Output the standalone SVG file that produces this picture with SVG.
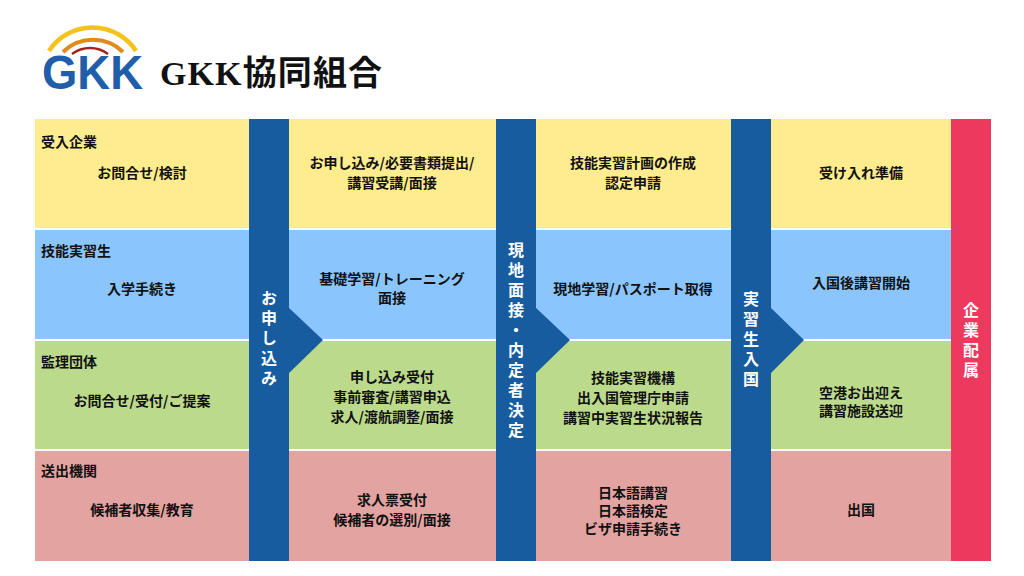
<svg xmlns="http://www.w3.org/2000/svg" width="1024" height="576" viewBox="0 0 1024 576">
<style>
.t{font-family:"Noto Sans CJK JP","Noto Sans",sans-serif;font-size:14px;font-weight:bold;fill:#111;text-anchor:middle}
.c{font-family:"Noto Sans CJK JP","Noto Sans",sans-serif;font-size:14px;font-weight:bold;fill:#111}
.v{font-family:"Noto Sans CJK JP","Noto Sans",sans-serif;font-size:16px;font-weight:bold;fill:#fff;text-anchor:middle;writing-mode:vertical-rl;letter-spacing:4px}
.bar{fill:#165C9E}
.y{fill:#FEEC8F}.b{fill:#8AC6FD}.g{fill:#BCDA8C}.p{fill:#E3A4A1}
</style>
<rect width="1024" height="576" fill="#fff"/>
<g id="logo">
<path d="M49,51 A52,52 0 0 1 136,51" fill="none" stroke="#F5C21B" stroke-width="4.5"/>
<path d="M63,52 A43,43 0 0 1 123,52" fill="none" stroke="#E08A1E" stroke-width="4"/>
<path d="M72,54 A30,30 0 0 1 108,54" fill="none" stroke="#A3231C" stroke-width="2.5"/>
<text x="42" y="89" font-family="Liberation Sans,Arial,sans-serif" font-size="48" font-weight="bold" fill="#1F5FAA" textLength="101" lengthAdjust="spacingAndGlyphs">GKK</text>
</g>
<g id="title">
<text x="160" y="85" font-family="Liberation Serif,Noto Sans CJK JP,serif" font-size="34" font-weight="bold" fill="#111" textLength="222" lengthAdjust="spacing">GKK協同組合</text>
</g>
<g id="row-ukeire">
<rect class="y" x="35" y="119" width="916" height="109"/>
<text class="c" x="41" y="147">受入企業</text>
<text class="t" x="142" y="178">お問合せ/検討</text>
<text class="t" x="392" y="168">お申し込み/必要書類提出/</text>
<text class="t" x="392" y="188">講習受講/面接</text>
<text class="t" x="633" y="168">技能実習計画の作成</text>
<text class="t" x="633" y="188">認定申請</text>
<text class="t" x="861" y="178">受け入れ準備</text>
</g>
<g id="row-ginou">
<rect class="b" x="35" y="230" width="916" height="109"/>
<text class="c" x="41" y="256">技能実習生</text>
<text class="t" x="142" y="294">入学手続き</text>
<text class="t" x="392" y="284">基礎学習/トレーニング</text>
<text class="t" x="392" y="303">面接</text>
<text class="t" x="633" y="294">現地学習/パスポート取得</text>
<text class="t" x="861" y="288">入国後講習開始</text>
</g>
<g id="row-kanri">
<rect class="g" x="35" y="341" width="916" height="108"/>
<text class="c" x="41" y="367">監理団体</text>
<text class="t" x="142" y="406">お問合せ/受付/ご提案</text>
<text class="t" x="392" y="382">申し込み受付</text>
<text class="t" x="392" y="402">事前審査/講習申込</text>
<text class="t" x="392" y="422">求人/渡航調整/面接</text>
<text class="t" x="633" y="383">技能実習機構</text>
<text class="t" x="633" y="403">出入国管理庁申請</text>
<text class="t" x="633" y="423">講習中実習生状況報告</text>
<text class="t" x="861" y="398">空港お出迎え</text>
<text class="t" x="861" y="416">講習施設送迎</text>
</g>
<g id="row-okuridashi">
<rect class="p" x="35" y="451" width="916" height="110"/>
<text class="c" x="41" y="476">送出機関</text>
<text class="t" x="142" y="515">候補者収集/教育</text>
<text class="t" x="392" y="505">求人票受付</text>
<text class="t" x="392" y="525">候補者の選別/面接</text>
<text class="t" x="633" y="498">日本語講習</text>
<text class="t" x="633" y="516">日本語検定</text>
<text class="t" x="633" y="534">ビザ申請手続き</text>
<text class="t" x="861" y="515">出国</text>
</g>
<g id="connectors">
<polygon class="bar" points="288,307 323,340 288,374"/>
<polygon class="bar" points="535,307 570,340 535,374"/>
<polygon class="bar" points="770,307 804,340 770,374"/>
</g>
<g id="step-moushikomi">
<rect class="bar" x="249" y="119" width="40" height="442"/>
<text class="v" x="269" y="340">お申し込み</text>
</g>
<g id="step-mensetsu">
<rect class="bar" x="496" y="119" width="40" height="442"/>
<text class="v" x="516" y="342">現地面接・内定者決定</text>
</g>
<g id="step-nyukoku">
<rect class="bar" x="731" y="119" width="40" height="442"/>
<text class="v" x="751" y="341">実習生入国</text>
</g>
<g id="step-haizoku">
<rect x="951" y="119" width="40" height="442" fill="#EE395F"/>
<text class="v" x="971" y="342">企業配属</text>
</g>
</svg>
